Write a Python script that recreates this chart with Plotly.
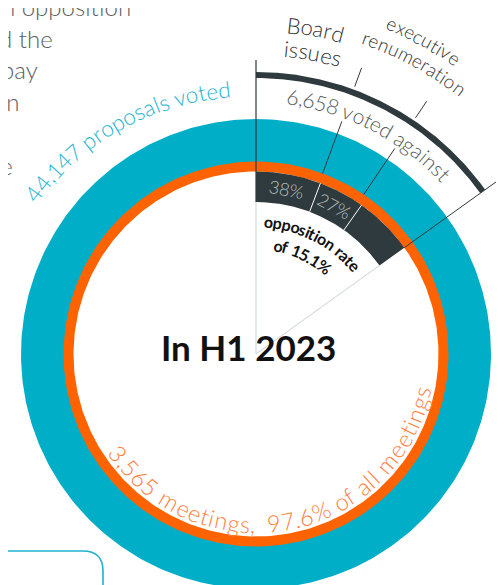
import math
import plotly.graph_objects as go

# ---------------- data ----------------
proposals_voted = 44147
votes_against = 6658
opposition_rate_pct = 15.1
category_names = ["Board issues", "executive renumeration", "other"]
category_share_pct = [38, 27, 35]
meetings_count = 3565
meetings_share_pct = 97.6
period_label = "In H1 2023"
intro_fragments = ["n opposition", "d the", "pay", "in", "d", "he"]

# ---------------- styling / geometry ----------------
W, H = 504, 585
OFF = 8                      # page body margin
SCX, SCY = 256, 354          # circle centre on the page
CX, CY = SCX - OFF, SCY - OFF  # circle centre inside the figure
FONT = "Lato, 'Open Sans', sans-serif"
TEAL = "#00aec7"
ORANGE = "#ff6300"
DARK = "#2e3a3d"
LIGHT = "#c9d3da"

R_TEAL_OUT, R_TEAL_IN = 235, 190
R_OR_OUT, R_OR_IN = 192.5, 182.5
R_DARK_IN = 152
R_ARC_IN, R_ARC_OUT = 276, 282

CW = {'a': .51, 'b': .57, 'c': .47, 'd': .57, 'e': .53, 'f': .33, 'g': .51, 'h': .57, 'i': .25,
      'j': .25, 'k': .5, 'l': .25, 'm': .86, 'n': .57, 'o': .57, 'p': .56, 'q': .57, 'r': .38,
      's': .44, 't': .36, 'u': .57, 'v': .52, 'w': .78, 'x': .51, 'y': .51, 'z': .46, 'B': .63,
      ' ': .26, ',': .22, '.': .22, '%': .76}


def pol(r, th):
    t = math.radians(th)
    return r * math.cos(t), r * math.sin(t)


def sector(r_in, r_out, th0, th1, n=240):
    xs, ys = [], []
    for k in range(n + 1):
        x, y = pol(r_out, th0 + (th1 - th0) * k / n)
        xs.append(x); ys.append(y)
    for k in range(n + 1):
        x, y = pol(r_in, th1 - (th1 - th0) * k / n)
        xs.append(x); ys.append(y)
    xs.append(xs[0]); ys.append(ys[0])
    return xs, ys


def radial(th, r0, r1):
    x0, y0 = pol(r0, th)
    x1, y1 = pol(r1, th)
    return [x0, x1], [y0, y1]


def arc_text(text, r, theta_mid, size, color, weight=300, clockwise=True, r_end=None):
    if r_end is None:
        r_end = r
    w = [CW.get(c, .58) * size for c in text]
    centers, s = [], 0.0
    for i in range(len(text)):
        if i:
            s += (w[i - 1] + w[i]) / 2
        centers.append(s)
    total = centers[-1]
    half = total / 2
    r_avg = (r + r_end) / 2
    out = []
    for c, s in zip(text, centers):
        if c == ' ':
            continue
        d = math.degrees((s - half) / r_avg)
        th = theta_mid - d if clockwise else theta_mid + d
        rr = r + (r_end - r) * (s / total)
        x, y = pol(rr, th)
        rot = 90 - th if clockwise else 270 - th
        out.append(dict(x=x, y=y, xref='x', yref='y', text=c, showarrow=False, textangle=rot,
                        xanchor='center', yanchor='middle',
                        font=dict(family=FONT, size=size, color=color, weight=weight)))
    return out


def page_to_paper(xs_, ys_):
    return (xs_ - OFF) / W, 1 - (ys_ - OFF) / H


fig = go.Figure()

# full rings (seam hidden at 90 deg)
xs, ys = sector(R_TEAL_IN, R_TEAL_OUT, 90, 450, 400)
fig.add_trace(go.Scatter(x=xs, y=ys, fill='toself', fillcolor=TEAL, mode='lines',
                         line=dict(width=0, color=TEAL), hoverinfo='skip'))
xs, ys = sector(R_OR_IN, R_OR_OUT, 90, 450, 400)
fig.add_trace(go.Scatter(x=xs, y=ys, fill='toself', fillcolor=ORANGE, mode='lines',
                         line=dict(width=0, color=ORANGE), hoverinfo='skip'))

# opposition sector
sweep = opposition_rate_pct / 100 * 360
start_th = 90
end_th = start_th - sweep
xs, ys = sector(R_DARK_IN, R_OR_IN, start_th, end_th)
fig.add_trace(go.Scatter(x=xs, y=ys, fill='toself', fillcolor=DARK, mode='lines',
                         line=dict(width=0, color=DARK), hoverinfo='skip'))
# outer arc
xs, ys = sector(R_ARC_IN, R_ARC_OUT, start_th, end_th)
fig.add_trace(go.Scatter(x=xs, y=ys, fill='toself', fillcolor=DARK, mode='lines',
                         line=dict(width=0, color=DARK), hoverinfo='skip'))

# category boundaries
bounds, mids = [], []
acc = 0
for share in category_share_pct:
    a0 = start_th - sweep * acc / 100
    acc += share
    a1 = start_th - sweep * acc / 100
    bounds.append(a1)
    mids.append((a0 + a1) / 2)
for b in bounds[:-1]:
    x, y = radial(b, R_DARK_IN, R_OR_IN)
    fig.add_trace(go.Scatter(x=x, y=y, mode='lines', line=dict(width=1, color='white'), hoverinfo='skip'))

# radial guide lines
for th in (start_th, end_th):
    x, y = radial(th, 0, R_DARK_IN)
    fig.add_trace(go.Scatter(x=x, y=y, mode='lines', line=dict(width=1, color=LIGHT), hoverinfo='skip'))
x, y = radial(start_th, R_DARK_IN, 294)
fig.add_trace(go.Scatter(x=x, y=y, mode='lines', line=dict(width=1.2, color=DARK), hoverinfo='skip'))
x, y = radial(end_th, R_OR_IN, 340)
fig.add_trace(go.Scatter(x=x, y=y, mode='lines', line=dict(width=1, color=DARK), hoverinfo='skip'))

# leader lines for the two labelled categories
leader_angles = [bounds[0] + 0.4, bounds[1] + 1.3]
for th in leader_angles:
    for r0, r1 in ((R_OR_OUT, 248), (285, 305)):
        x, y = radial(th, r0, r1)
        fig.add_trace(go.Scatter(x=x, y=y, mode='lines', line=dict(width=1, color=DARK), hoverinfo='skip'))

anns = []
anns += arc_text(f"{proposals_voted:,} proposals voted", 274, 120.6, 22.5, "#24b4d0", r_end=266)
anns += arc_text(f"{votes_against:,} voted against", 260, 62.7, 21, "#55595b")
anns += arc_text(f"{meetings_count:,} meetings,  {meetings_share_pct}% of all meetings", 170, 281.5, 23.5,
                 "#ff7f3c", clockwise=False)
anns += arc_text("Board", 331, 79.5, 22, "#333333")
anns += arc_text("issues", 307, 79.6, 22, "#333333")
anns += arc_text("executive", 357, 61.9, 19, "#333333")
anns += arc_text("renumeration", 335, 61.7, 19, "#333333")
anns += arc_text("opposition rate", 133, 63.2, 16, "#111111", weight=700)
anns += arc_text(f"of {opposition_rate_pct}%", 111, 65.2, 16, "#111111", weight=700)
for share, m in zip(category_share_pct[:2], mids[:2]):
    x, y = pol(168, m)
    anns.append(dict(x=x, y=y, xref='x', yref='y', text=f"{share}%", showarrow=False, textangle=90 - m,
                     xanchor='center', yanchor='middle',
                     font=dict(family=FONT, size=18, color="#b9c0c2", weight=300)))

anns.append(dict(x=-8, y=7, xref='x', yref='y', text=f"<b>{period_label}</b>", showarrow=False,
                 xanchor='center', yanchor='middle',
                 font=dict(family=FONT, size=35, color="#111111", weight=700)))

# clipped intro paragraph on the left (page coordinates -> paper)
right_edges = [133, 55, 40, 22, 8, 15]
baselines = [13, 45, 77, 109, 141, 173]
for txt, xr, yb in zip(intro_fragments, right_edges, baselines):
    px_, py_ = page_to_paper(xr, yb - 7)
    anns.append(dict(x=px_, y=py_, xref='paper', yref='paper', text=txt, showarrow=False,
                     xanchor='right', yanchor='middle',
                     font=dict(family=FONT, size=24, color="#5a5e60", weight=300)))


# rounded box outline at bottom-left (page coordinates -> paper)
def pp(xs_, ys_):
    a, b = page_to_paper(xs_, ys_)
    return f"{a:.5f},{b:.5f}"


path = (f"M {pp(-5, 551)} L {pp(83, 551)} Q {pp(103, 551)} {pp(103, 571)} L {pp(103, 600)}")
shapes = [dict(type='path', path=path, xref='paper', yref='paper', line=dict(color="#1fb2cf", width=1.6))]

fig.update_layout(
    width=W, height=H, margin=dict(l=0, r=0, t=0, b=0), autosize=False,
    paper_bgcolor='white', plot_bgcolor='white', showlegend=False,
    xaxis=dict(range=[-CX, W - CX], visible=False, fixedrange=True),
    yaxis=dict(range=[-(H - CY), CY], visible=False, fixedrange=True),
    annotations=anns, shapes=shapes,
)
fig.write_html("out.html")
